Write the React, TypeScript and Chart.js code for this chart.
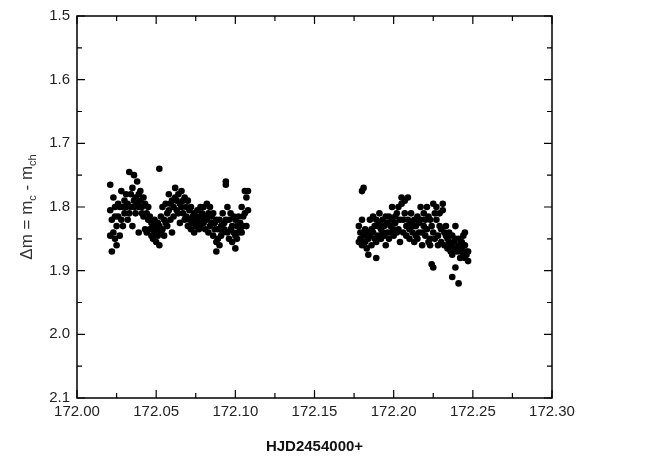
import React, { useEffect, useRef } from "react";
import { Chart, registerables } from "chart.js";

Chart.register(...registerables);

const X_TICKS = [172.0, 172.05, 172.1, 172.15, 172.2, 172.25, 172.3];
const Y_TICKS = [1.5, 1.6, 1.7, 1.8, 1.9, 2.0, 2.1];

// Run 1: time (HJD-2454000) and magnitude differences observed at that time
const run1: [number, number[]][] = [
  [172.021, [1.765, 1.805, 1.845]],
  [172.022, [1.82, 1.87]],
  [172.023, [1.785, 1.84]],
  [172.024, [1.8, 1.85, 1.815]],
  [172.025, [1.83, 1.86]],
  [172.026, [1.795, 1.815]],
  [172.027, [1.8, 1.845]],
  [172.028, [1.775, 1.82]],
  [172.029, [1.8, 1.83]],
  [172.03, [1.79, 1.81]],
  [172.031, [1.78, 1.8]],
  [172.032, [1.795, 1.82]],
  [172.033, [1.745, 1.81]],
  [172.034, [1.78, 1.8]],
  [172.035, [1.77, 1.83]],
  [172.036, [1.75, 1.79, 1.8]],
  [172.037, [1.785, 1.81]],
  [172.038, [1.76, 1.795]],
  [172.039, [1.78, 1.8, 1.84]],
  [172.04, [1.775, 1.79]],
  [172.041, [1.8, 1.81]],
  [172.042, [1.785, 1.815]],
  [172.043, [1.795, 1.835]],
  [172.044, [1.81, 1.84]],
  [172.045, [1.8, 1.82]],
  [172.046, [1.815, 1.835]],
  [172.047, [1.825, 1.845]],
  [172.048, [1.83, 1.85]],
  [172.049, [1.82, 1.84]],
  [172.05, [1.835, 1.855]],
  [172.051, [1.825, 1.845]],
  [172.052, [1.74, 1.83, 1.86]],
  [172.053, [1.815, 1.84]],
  [172.054, [1.8, 1.835]],
  [172.055, [1.82, 1.845]],
  [172.056, [1.795, 1.825]],
  [172.057, [1.81, 1.83]],
  [172.058, [1.78, 1.805]],
  [172.059, [1.795, 1.82]],
  [172.06, [1.79, 1.84]],
  [172.061, [1.8, 1.815]],
  [172.062, [1.77, 1.785]],
  [172.063, [1.79, 1.805]],
  [172.064, [1.78, 1.81]],
  [172.065, [1.795, 1.825]],
  [172.066, [1.775, 1.8]],
  [172.067, [1.79, 1.81]],
  [172.068, [1.785, 1.82]],
  [172.069, [1.8, 1.815]],
  [172.07, [1.79, 1.83]],
  [172.071, [1.805, 1.82]],
  [172.072, [1.8, 1.835]],
  [172.073, [1.815, 1.825]],
  [172.074, [1.81, 1.84]],
  [172.075, [1.82, 1.83]],
  [172.076, [1.805, 1.825]],
  [172.077, [1.815, 1.835]],
  [172.078, [1.8, 1.83]],
  [172.079, [1.81, 1.82]],
  [172.08, [1.8, 1.825]],
  [172.081, [1.815, 1.835]],
  [172.082, [1.795, 1.82]],
  [172.083, [1.81, 1.84]],
  [172.084, [1.8, 1.83]],
  [172.085, [1.815, 1.825]],
  [172.086, [1.81, 1.845]],
  [172.087, [1.825, 1.835]],
  [172.088, [1.82, 1.855, 1.87]],
  [172.089, [1.835, 1.85]],
  [172.09, [1.82, 1.86]],
  [172.091, [1.83, 1.845]],
  [172.092, [1.81, 1.84]],
  [172.093, [1.825, 1.835]],
  [172.094, [1.76, 1.765, 1.82]],
  [172.095, [1.8, 1.84]],
  [172.096, [1.82, 1.85]],
  [172.097, [1.81, 1.835]],
  [172.098, [1.83, 1.855]],
  [172.099, [1.815, 1.84]],
  [172.1, [1.82, 1.845, 1.865]],
  [172.101, [1.83, 1.85]],
  [172.102, [1.815, 1.84]],
  [172.103, [1.825, 1.835]],
  [172.104, [1.8, 1.84]],
  [172.105, [1.815, 1.83]],
  [172.106, [1.775, 1.81]],
  [172.107, [1.785, 1.83]],
  [172.108, [1.775, 1.805]],
];

// Run 2
const run2: [number, number[]][] = [
  [172.178, [1.83, 1.855]],
  [172.179, [1.84, 1.85]],
  [172.18, [1.775, 1.82, 1.86]],
  [172.181, [1.77, 1.845]],
  [172.182, [1.835, 1.855]],
  [172.183, [1.84, 1.865]],
  [172.184, [1.85, 1.875]],
  [172.185, [1.82, 1.845]],
  [172.186, [1.835, 1.86]],
  [172.187, [1.815, 1.84]],
  [172.188, [1.83, 1.85]],
  [172.189, [1.82, 1.855, 1.88]],
  [172.19, [1.83, 1.845]],
  [172.191, [1.81, 1.825]],
  [172.192, [1.835, 1.85]],
  [172.193, [1.82, 1.84]],
  [172.194, [1.83, 1.845]],
  [172.195, [1.815, 1.86]],
  [172.196, [1.825, 1.84]],
  [172.197, [1.815, 1.85]],
  [172.198, [1.83, 1.84]],
  [172.199, [1.8, 1.82]],
  [172.2, [1.835, 1.845]],
  [172.201, [1.815, 1.825]],
  [172.202, [1.81, 1.84]],
  [172.203, [1.8, 1.835]],
  [172.204, [1.82, 1.855]],
  [172.205, [1.785, 1.795]],
  [172.206, [1.82, 1.84]],
  [172.207, [1.79, 1.81]],
  [172.208, [1.83, 1.845]],
  [172.209, [1.785, 1.82]],
  [172.21, [1.835, 1.85]],
  [172.211, [1.81, 1.825]],
  [172.212, [1.84, 1.83]],
  [172.213, [1.82, 1.855]],
  [172.214, [1.83, 1.845]],
  [172.215, [1.815, 1.85]],
  [172.216, [1.825, 1.84]],
  [172.217, [1.8, 1.82]],
  [172.218, [1.84, 1.86]],
  [172.219, [1.81, 1.83]],
  [172.22, [1.845, 1.82]],
  [172.221, [1.8, 1.835]],
  [172.222, [1.815, 1.855]],
  [172.223, [1.82, 1.85, 1.86]],
  [172.224, [1.83, 1.89]],
  [172.225, [1.795, 1.84, 1.895]],
  [172.226, [1.81, 1.85]],
  [172.227, [1.8, 1.82]],
  [172.228, [1.845, 1.86]],
  [172.229, [1.81, 1.83]],
  [172.23, [1.835, 1.855]],
  [172.231, [1.795, 1.805]],
  [172.232, [1.84, 1.86]],
  [172.233, [1.83, 1.845]],
  [172.234, [1.865, 1.85]],
  [172.235, [1.84, 1.855]],
  [172.236, [1.87, 1.86]],
  [172.237, [1.845, 1.875, 1.91]],
  [172.238, [1.855, 1.865]],
  [172.239, [1.83, 1.85, 1.895]],
  [172.24, [1.865, 1.87]],
  [172.241, [1.85, 1.86, 1.92]],
  [172.242, [1.88, 1.87]],
  [172.243, [1.855, 1.865]],
  [172.244, [1.875, 1.845]],
  [172.245, [1.84, 1.86, 1.88]],
  [172.246, [1.87, 1.875]],
  [172.247, [1.87, 1.885]],
];

const FONT = "'Liberation Sans', Arial, sans-serif";

function toPoints(run: [number, number[]][]) {
  const pts: { x: number; y: number }[] = [];
  run.forEach(([x, ys]) => ys.forEach((y) => pts.push({ x, y })));
  return pts;
}

const framePlugin = {
  id: "frame",
  afterDraw(chart: any) {
    const { ctx, chartArea: a, scales } = chart;
    const xs = scales.x;
    const ys = scales.y;
    ctx.save();
    ctx.strokeStyle = "#000";
    ctx.lineWidth = 1.5;
    ctx.strokeRect(a.left, a.top, a.right - a.left, a.bottom - a.top);
    ctx.lineWidth = 1.2;
    ctx.beginPath();
    for (let i = 0; i < X_TICKS.length; i++) {
      const px = xs.getPixelForValue(X_TICKS[i]);
      ctx.moveTo(px, a.bottom);
      ctx.lineTo(px, a.bottom - 8);
      ctx.moveTo(px, a.top);
      ctx.lineTo(px, a.top + 8);
      if (i < X_TICKS.length - 1) {
        const mx = xs.getPixelForValue((X_TICKS[i] + X_TICKS[i + 1]) / 2);
        ctx.moveTo(mx, a.bottom);
        ctx.lineTo(mx, a.bottom - 5);
        ctx.moveTo(mx, a.top);
        ctx.lineTo(mx, a.top + 5);
      }
    }
    for (let i = 0; i < Y_TICKS.length; i++) {
      const py = ys.getPixelForValue(Y_TICKS[i]);
      ctx.moveTo(a.left, py);
      ctx.lineTo(a.left + 8, py);
      ctx.moveTo(a.right, py);
      ctx.lineTo(a.right - 8, py);
      if (i < Y_TICKS.length - 1) {
        const my = ys.getPixelForValue((Y_TICKS[i] + Y_TICKS[i + 1]) / 2);
        ctx.moveTo(a.left, my);
        ctx.lineTo(a.left + 5, my);
        ctx.moveTo(a.right, my);
        ctx.lineTo(a.right - 5, my);
      }
    }
    ctx.stroke();

    // Y title with subscripts
    ctx.fillStyle = "#333";
    ctx.textBaseline = "alphabetic";
    ctx.textAlign = "left";
    const big = `17px ${FONT}`;
    const small = `11px ${FONT}`;
    const parts: [string, boolean][] = [
      ["\u0394m = m", false],
      ["c", true],
      [" - m", false],
      ["ch", true],
    ];
    let total = 0;
    parts.forEach(([t, sub]) => {
      ctx.font = sub ? small : big;
      total += ctx.measureText(t).width;
    });
    ctx.translate(27, (a.top + a.bottom) / 2);
    ctx.rotate(-Math.PI / 2);
    let cx = -total / 2;
    parts.forEach(([t, sub]) => {
      ctx.font = sub ? small : big;
      ctx.fillText(t, cx, sub ? 9 : 5);
      cx += ctx.measureText(t).width;
    });
    ctx.restore();
  },
};

export default function App() {
  const ref = useRef<HTMLCanvasElement>(null);
  useEffect(() => {
    const chart = new Chart(ref.current!, {
      type: "scatter",
      data: {
        datasets: [
          {
            data: [...toPoints(run1), ...toPoints(run2)],
            backgroundColor: "#000",
            borderColor: "#000",
            pointRadius: 3.3,
            pointBorderWidth: 0,
          },
        ],
      },
      options: {
        responsive: false,
        animation: false,
        layout: { padding: { top: 15, right: 97, left: 0, bottom: 0 } },
        plugins: { legend: { display: false }, tooltip: { enabled: false } },
        scales: {
          x: {
            type: "linear",
            min: 172.0,
            max: 172.3,
            afterBuildTicks: (s: any) => {
              s.ticks = X_TICKS.map((v) => ({ value: v }));
            },
            afterFit: (s: any) => {
              s.height = 62;
            },
            ticks: {
              callback: (v: any) => Number(v).toFixed(2),
              color: "#222",
              font: { family: FONT, size: 15 },
              padding: 5,
              maxRotation: 0,
            },
            grid: { display: false, drawTicks: false },
            border: { display: false },
            title: {
              display: true,
              text: "HJD2454000+",
              color: "#111",
              font: { family: FONT, size: 15, weight: "bold" },
              padding: { top: 16 },
            },
          },
          y: {
            type: "linear",
            reverse: true,
            min: 1.5,
            max: 2.1,
            afterBuildTicks: (s: any) => {
              s.ticks = Y_TICKS.map((v) => ({ value: v }));
            },
            afterFit: (s: any) => {
              s.width = 77;
            },
            ticks: {
              callback: (v: any) => Number(v).toFixed(1),
              color: "#222",
              font: { family: FONT, size: 15 },
              padding: 7,
            },
            grid: { display: false, drawTicks: false },
            border: { display: false },
          },
        },
      },
      plugins: [framePlugin],
    });
    return () => chart.destroy();
  }, []);
  return (
    <div style={{ position: "absolute", left: 0, top: 0, width: 649, height: 460, background: "#fff" }}>
      <canvas ref={ref} width={649} height={460} />
    </div>
  );
}
